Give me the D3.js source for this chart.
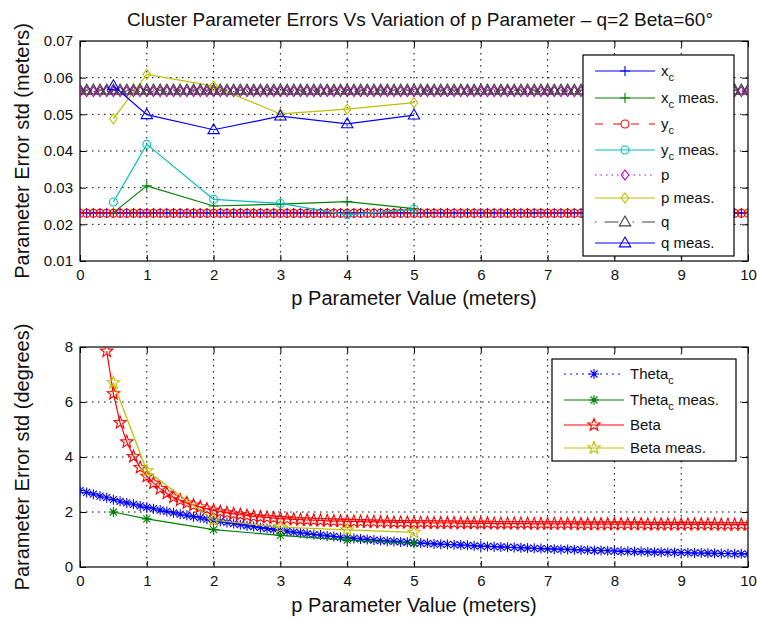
<!DOCTYPE html>
<html>
<head>
<meta charset="utf-8">
<script src="https://cdn.jsdelivr.net/npm/d3@7"></script>
<style>
body { margin: 0; background: #fff; }
text { font-family: "Liberation Sans", Arial, Helvetica, sans-serif; fill: #111; }
</style>
</head>
<body>
<div id="interface"></div>
<script>

// global variables
var svg_w = 757;
var svg_h = 623;
var plot_left = 80;
var plot_right = 748;

// p grid (meters), 0..10 step 0.1
var pGrid = [
	0.0, 0.1, 0.2, 0.3, 0.4, 0.5, 0.6, 0.7, 0.8, 0.9,
	1.0, 1.1, 1.2, 1.3, 1.4, 1.5, 1.6, 1.7, 1.8, 1.9,
	2.0, 2.1, 2.2, 2.3, 2.4, 2.5, 2.6, 2.7, 2.8, 2.9,
	3.0, 3.1, 3.2, 3.3, 3.4, 3.5, 3.6, 3.7, 3.8, 3.9,
	4.0, 4.1, 4.2, 4.3, 4.4, 4.5, 4.6, 4.7, 4.8, 4.9,
	5.0, 5.1, 5.2, 5.3, 5.4, 5.5, 5.6, 5.7, 5.8, 5.9,
	6.0, 6.1, 6.2, 6.3, 6.4, 6.5, 6.6, 6.7, 6.8, 6.9,
	7.0, 7.1, 7.2, 7.3, 7.4, 7.5, 7.6, 7.7, 7.8, 7.9,
	8.0, 8.1, 8.2, 8.3, 8.4, 8.5, 8.6, 8.7, 8.8, 8.9,
	9.0, 9.1, 9.2, 9.3, 9.4, 9.5, 9.6, 9.7, 9.8, 9.9,
	10.0];

// measured p values
var measP = [0.5, 1, 2, 3, 4, 5];

// top plot - std in meters
var xcErr = [
	0.0231, 0.0231, 0.0231, 0.0231, 0.0231, 0.0231, 0.0231, 0.0231, 0.0231, 0.0231,
	0.0231, 0.0231, 0.0231, 0.0231, 0.0231, 0.0231, 0.0231, 0.0231, 0.0231, 0.0231,
	0.0231, 0.0231, 0.0231, 0.0231, 0.0231, 0.0231, 0.0231, 0.0231, 0.0231, 0.0231,
	0.0231, 0.0231, 0.0231, 0.0231, 0.0231, 0.0231, 0.0231, 0.0231, 0.0231, 0.0231,
	0.0231, 0.0231, 0.0231, 0.0231, 0.0231, 0.0231, 0.0231, 0.0231, 0.0231, 0.0231,
	0.0231, 0.0231, 0.0231, 0.0231, 0.0231, 0.0231, 0.0231, 0.0231, 0.0231, 0.0231,
	0.0231, 0.0231, 0.0231, 0.0231, 0.0231, 0.0231, 0.0231, 0.0231, 0.0231, 0.0231,
	0.0231, 0.0231, 0.0231, 0.0231, 0.0231, 0.0231, 0.0231, 0.0231, 0.0231, 0.0231,
	0.0231, 0.0231, 0.0231, 0.0231, 0.0231, 0.0231, 0.0231, 0.0231, 0.0231, 0.0231,
	0.0231, 0.0231, 0.0231, 0.0231, 0.0231, 0.0231, 0.0231, 0.0231, 0.0231, 0.0231,
	0.0231];
var ycErr = [
	0.0230, 0.0230, 0.0230, 0.0230, 0.0230, 0.0230, 0.0230, 0.0230, 0.0230, 0.0230,
	0.0230, 0.0230, 0.0230, 0.0230, 0.0230, 0.0230, 0.0230, 0.0230, 0.0230, 0.0230,
	0.0230, 0.0230, 0.0230, 0.0230, 0.0230, 0.0230, 0.0230, 0.0230, 0.0230, 0.0230,
	0.0230, 0.0230, 0.0230, 0.0230, 0.0230, 0.0230, 0.0230, 0.0230, 0.0230, 0.0230,
	0.0230, 0.0230, 0.0230, 0.0230, 0.0230, 0.0230, 0.0230, 0.0230, 0.0230, 0.0230,
	0.0230, 0.0230, 0.0230, 0.0230, 0.0230, 0.0230, 0.0230, 0.0230, 0.0230, 0.0230,
	0.0230, 0.0230, 0.0230, 0.0230, 0.0230, 0.0230, 0.0230, 0.0230, 0.0230, 0.0230,
	0.0230, 0.0230, 0.0230, 0.0230, 0.0230, 0.0230, 0.0230, 0.0230, 0.0230, 0.0230,
	0.0230, 0.0230, 0.0230, 0.0230, 0.0230, 0.0230, 0.0230, 0.0230, 0.0230, 0.0230,
	0.0230, 0.0230, 0.0230, 0.0230, 0.0230, 0.0230, 0.0230, 0.0230, 0.0230, 0.0230,
	0.0230];
var pErr = [
	0.0562, 0.0562, 0.0562, 0.0562, 0.0562, 0.0562, 0.0562, 0.0562, 0.0562, 0.0562,
	0.0562, 0.0562, 0.0562, 0.0562, 0.0562, 0.0562, 0.0562, 0.0562, 0.0562, 0.0562,
	0.0562, 0.0562, 0.0562, 0.0562, 0.0562, 0.0562, 0.0562, 0.0562, 0.0562, 0.0562,
	0.0562, 0.0562, 0.0562, 0.0562, 0.0562, 0.0562, 0.0562, 0.0562, 0.0562, 0.0562,
	0.0562, 0.0562, 0.0562, 0.0562, 0.0562, 0.0562, 0.0562, 0.0562, 0.0562, 0.0562,
	0.0562, 0.0562, 0.0562, 0.0562, 0.0562, 0.0562, 0.0562, 0.0562, 0.0562, 0.0562,
	0.0562, 0.0562, 0.0562, 0.0562, 0.0562, 0.0562, 0.0562, 0.0562, 0.0562, 0.0562,
	0.0562, 0.0562, 0.0562, 0.0562, 0.0562, 0.0562, 0.0562, 0.0562, 0.0562, 0.0562,
	0.0562, 0.0562, 0.0562, 0.0562, 0.0562, 0.0562, 0.0562, 0.0562, 0.0562, 0.0562,
	0.0562, 0.0562, 0.0562, 0.0562, 0.0562, 0.0562, 0.0562, 0.0562, 0.0562, 0.0562,
	0.0562];
var qErr = [
	0.0566, 0.0566, 0.0566, 0.0566, 0.0566, 0.0566, 0.0566, 0.0566, 0.0566, 0.0566,
	0.0566, 0.0566, 0.0566, 0.0566, 0.0566, 0.0566, 0.0566, 0.0566, 0.0566, 0.0566,
	0.0566, 0.0566, 0.0566, 0.0566, 0.0566, 0.0566, 0.0566, 0.0566, 0.0566, 0.0566,
	0.0566, 0.0566, 0.0566, 0.0566, 0.0566, 0.0566, 0.0566, 0.0566, 0.0566, 0.0566,
	0.0566, 0.0566, 0.0566, 0.0566, 0.0566, 0.0566, 0.0566, 0.0566, 0.0566, 0.0566,
	0.0566, 0.0566, 0.0566, 0.0566, 0.0566, 0.0566, 0.0566, 0.0566, 0.0566, 0.0566,
	0.0566, 0.0566, 0.0566, 0.0566, 0.0566, 0.0566, 0.0566, 0.0566, 0.0566, 0.0566,
	0.0566, 0.0566, 0.0566, 0.0566, 0.0566, 0.0566, 0.0566, 0.0566, 0.0566, 0.0566,
	0.0566, 0.0566, 0.0566, 0.0566, 0.0566, 0.0566, 0.0566, 0.0566, 0.0566, 0.0566,
	0.0566, 0.0566, 0.0566, 0.0566, 0.0566, 0.0566, 0.0566, 0.0566, 0.0566, 0.0566,
	0.0566];
var xcMeas = [0.0232, 0.0305, 0.0250, 0.0255, 0.0262, 0.0243];
var ycMeas = [0.0261, 0.0418, 0.0268, 0.0257, 0.0226, 0.0241];
var pMeas = [0.0488, 0.0609, 0.0577, 0.0501, 0.0514, 0.0532];
var qMeas = [0.0578, 0.0499, 0.0458, 0.0495, 0.0474, 0.0498];

// bottom plot - std in degrees
var thetaErr = [
	2.78, 2.71, 2.65, 2.58, 2.52, 2.45, 2.39, 2.33, 2.28, 2.22,
	2.17, 2.12, 2.07, 2.02, 1.97, 1.92, 1.88, 1.83, 1.79, 1.74,
	1.70, 1.66, 1.62, 1.58, 1.54, 1.50, 1.47, 1.43, 1.40, 1.36,
	1.33, 1.30, 1.27, 1.24, 1.21, 1.18, 1.16, 1.13, 1.11, 1.08,
	1.06, 1.04, 1.02, 1.00, 0.98, 0.96, 0.94, 0.93, 0.91, 0.90,
	0.88, 0.87, 0.86, 0.84, 0.83, 0.82, 0.81, 0.80, 0.79, 0.77,
	0.76, 0.75, 0.74, 0.73, 0.72, 0.71, 0.70, 0.69, 0.68, 0.67,
	0.66, 0.65, 0.64, 0.64, 0.63, 0.62, 0.61, 0.60, 0.60, 0.59,
	0.58, 0.57, 0.57, 0.56, 0.56, 0.55, 0.54, 0.54, 0.53, 0.53,
	0.52, 0.52, 0.51, 0.51, 0.50, 0.50, 0.49, 0.49, 0.48, 0.48,
	0.47];
// Beta starts at p=0.4 (smaller p is off scale)
var betaStart = 4;
var betaErr = [
	7.85, 6.30, 5.25, 4.55, 4.02, 3.62,
	3.30, 3.05, 2.85, 2.68, 2.54, 2.43, 2.33, 2.25, 2.18, 2.11,
	2.06, 2.01, 1.97, 1.93, 1.90, 1.87, 1.84, 1.82, 1.80, 1.78,
	1.76, 1.75, 1.73, 1.72, 1.71, 1.70, 1.69, 1.68, 1.67, 1.67,
	1.66, 1.65, 1.65, 1.64, 1.64, 1.63, 1.63, 1.62, 1.62, 1.62,
	1.61, 1.61, 1.61, 1.60, 1.60, 1.60, 1.60, 1.59, 1.59, 1.59,
	1.59, 1.59, 1.58, 1.58, 1.58, 1.58, 1.58, 1.58, 1.57, 1.57,
	1.57, 1.57, 1.57, 1.57, 1.57, 1.56, 1.56, 1.56, 1.56, 1.56,
	1.56, 1.56, 1.56, 1.56, 1.56, 1.55, 1.55, 1.55, 1.55, 1.55,
	1.55, 1.55, 1.55, 1.55, 1.55, 1.55, 1.54, 1.54, 1.54, 1.54,
	1.54];
var thetaMeas = [2.00, 1.75, 1.36, 1.15, 0.98, 0.86];
var betaMeas = [6.70, 3.50, 1.70, 1.45, 1.35, 1.26];

// tick values
var xTicks = [0, 1, 2, 3, 4, 5, 6, 7, 8, 9, 10];
var yTicksTop = [0.01, 0.02, 0.03, 0.04, 0.05, 0.06, 0.07];
var yTicksBot = [0, 2, 4, 6, 8];

// matlab colours
var c_blue = "#0000ff", c_green = "#008000", c_red = "#ff0000",
	c_cyan = "#00bfbf", c_mag = "#bf00bf", c_yel = "#bfbf00", c_blk = "#404040";

var svg = d3.select("#interface")
	.append("svg")
	.attr("width", svg_w)
	.attr("height", svg_h);

var x_scale = d3.scaleLinear()
	.domain([0, 10])
	.range([plot_left, plot_right]);

// marker shapes, drawn as outlines like matlab
function markerPath(type, s) {
	if (type == "plus") {
		return "M" + (-s) + ",0H" + s + "M0," + (-s) + "V" + s;
	}
	if (type == "star") {
		var a = s * 0.7;
		return "M" + (-s) + ",0H" + s + "M0," + (-s) + "V" + s +
			"M" + (-a) + "," + (-a) + "L" + a + "," + a + "M" + (-a) + "," + a + "L" + a + "," + (-a);
	}
	if (type == "diamond") {
		return "M0," + (-s) + "L" + (s * 0.75) + ",0L0," + s + "L" + (-s * 0.75) + ",0Z";
	}
	if (type == "triangle") {
		return "M0," + (-s) + "L" + (s * 0.95) + "," + (s * 0.65) + "L" + (-s * 0.95) + "," + (s * 0.65) + "Z";
	}
	if (type == "circle") {
		return d3.symbol().type(d3.symbolCircle).size(Math.PI * s * s)();
	}
	if (type == "pentagram") {
		var pts = [];
		for (var k = 0; k < 10; k++) {
			var r = (k % 2 == 0) ? s : s * 0.42;
			var ang = -Math.PI / 2 + k * Math.PI / 5;
			pts.push([r * Math.cos(ang), r * Math.sin(ang)]);
		}
		return "M" + pts.join("L") + "Z";
	}
	return "";
}

var markerSize = { plus: 5, star: 5, diamond: 5, triangle: 6, circle: 4, pentagram: 6.5 };

// draws one axes box with grid and ticks
function makeAxes(top, bottom, domain, yTicks, yFmt, clipId) {
	var y_scale = d3.scaleLinear()
		.domain(domain)
		.range([bottom, top]);

	svg.append("clipPath")
		.attr("id", clipId)
		.append("rect")
		.attr("x", plot_left)
		.attr("y", top)
		.attr("width", plot_right - plot_left)
		.attr("height", bottom - top);

	var g = svg.append("g");

	// grid
	g.selectAll(".vgrid")
		.data(xTicks.slice(1, -1))
		.enter()
		.append("line")
		.attr("x1", function(d) { return x_scale(d); })
		.attr("x2", function(d) { return x_scale(d); })
		.attr("y1", top)
		.attr("y2", bottom)
		.attr("stroke", "#000")
		.attr("stroke-width", 1)
		.attr("stroke-dasharray", "1.5,4.5");
	g.selectAll(".hgrid")
		.data(yTicks.slice(1, -1))
		.enter()
		.append("line")
		.attr("x1", plot_left)
		.attr("x2", plot_right)
		.attr("y1", function(d) { return y_scale(d); })
		.attr("y2", function(d) { return y_scale(d); })
		.attr("stroke", "#000")
		.attr("stroke-width", 1)
		.attr("stroke-dasharray", "1.5,4.5");

	// axes with inward ticks
	g.append("g")
		.attr("transform", "translate(0," + bottom + ")")
		.call(d3.axisBottom(x_scale).tickValues(xTicks).tickSizeInner(-6).tickSizeOuter(0).tickPadding(8));
	g.append("g")
		.attr("transform", "translate(0," + top + ")")
		.call(d3.axisTop(x_scale).tickValues(xTicks).tickSizeInner(-6).tickSizeOuter(0).tickFormat(""));
	g.append("g")
		.attr("transform", "translate(" + plot_left + ",0)")
		.call(d3.axisLeft(y_scale).tickValues(yTicks).tickSizeInner(-6).tickSizeOuter(0).tickPadding(7).tickFormat(yFmt));
	g.append("g")
		.attr("transform", "translate(" + plot_right + ",0)")
		.call(d3.axisRight(y_scale).tickValues(yTicks).tickSizeInner(-6).tickSizeOuter(0).tickFormat(""));

	g.selectAll(".domain").remove();
	g.selectAll(".tick line").attr("stroke", "#000");
	g.selectAll(".tick text")
		.style("font-family", "'Liberation Sans', Arial, sans-serif")
		.style("font-size", "15px")
		.attr("fill", "#111");

	// frame
	g.append("rect")
		.attr("x", plot_left)
		.attr("y", top)
		.attr("width", plot_right - plot_left)
		.attr("height", bottom - top)
		.attr("fill", "none")
		.attr("stroke", "#000")
		.attr("stroke-width", 1.2);

	return y_scale;
}

// plots one series: line + markers
function drawSeries(y_scale, clipId, xs, ys, color, dash, marker) {
	var pts = xs.map(function(d, i) { return [d, ys[i]]; });
	var g = svg.append("g").attr("clip-path", "url(#" + clipId + ")");
	var line = d3.line()
		.x(function(d) { return x_scale(d[0]); })
		.y(function(d) { return y_scale(d[1]); });
	g.append("path")
		.datum(pts)
		.attr("d", line)
		.attr("fill", "none")
		.attr("stroke", color)
		.attr("stroke-width", 1.2)
		.attr("stroke-dasharray", dash);
	g.selectAll(".mk")
		.data(pts)
		.enter()
		.append("path")
		.attr("transform", function(d) { return "translate(" + x_scale(d[0]) + "," + y_scale(d[1]) + ")"; })
		.attr("d", markerPath(marker, markerSize[marker]))
		.attr("fill", "none")
		.attr("stroke", color)
		.attr("stroke-width", 1.1);
}

// legend box
function drawLegend(x0, y0, w, h, rowY, items) {
	var g = svg.append("g");
	g.append("rect")
		.attr("x", x0)
		.attr("y", y0)
		.attr("width", w)
		.attr("height", h)
		.attr("fill", "#fff")
		.attr("stroke", "#000")
		.attr("stroke-width", 1.2);
	items.forEach(function(it, i) {
		var yy = rowY[i];
		g.append("line")
			.attr("x1", x0 + 12)
			.attr("x2", x0 + 72)
			.attr("y1", yy)
			.attr("y2", yy)
			.attr("stroke", it.color)
			.attr("stroke-width", 1.2)
			.attr("stroke-dasharray", it.dash);
		g.append("path")
			.attr("transform", "translate(" + (x0 + 42) + "," + yy + ")")
			.attr("d", markerPath(it.marker, markerSize[it.marker]))
			.attr("fill", "none")
			.attr("stroke", it.color)
			.attr("stroke-width", 1.1);
		var t = g.append("text")
			.attr("x", x0 + 78)
			.attr("y", yy + 5)
			.style("font-size", "15px");
		t.append("tspan").text(it.name);
		if (it.sub) {
			t.append("tspan").attr("dy", 5).style("font-size", "11px").text(it.sub);
			if (it.rest) {
				t.append("tspan").attr("dy", -5).text(it.rest);
			}
		}
	});
}

// ---- top plot ----
var y_top = makeAxes(41, 261, [0.01, 0.07], yTicksTop, d3.format(".2f"), "clipTop");

drawSeries(y_top, "clipTop", pGrid, xcErr, c_blue, null, "plus");
drawSeries(y_top, "clipTop", measP, xcMeas, c_green, null, "plus");
drawSeries(y_top, "clipTop", pGrid, ycErr, c_red, "8,5", "circle");
drawSeries(y_top, "clipTop", measP, ycMeas, c_cyan, null, "circle");
drawSeries(y_top, "clipTop", pGrid, pErr, c_mag, "1.5,3", "diamond");
drawSeries(y_top, "clipTop", measP, pMeas, c_yel, null, "diamond");
drawSeries(y_top, "clipTop", pGrid, qErr, c_blk, "8,3,1.5,3", "triangle");
drawSeries(y_top, "clipTop", measP, qMeas, c_blue, null, "triangle");

drawLegend(583, 55, 151, 201, [71, 98, 124, 150, 175, 198, 222, 243], [
	{ name: "x", sub: "c", color: c_blue, dash: null, marker: "plus" },
	{ name: "x", sub: "c", rest: " meas.", color: c_green, dash: null, marker: "plus" },
	{ name: "y", sub: "c", color: c_red, dash: "8,10", marker: "circle" },
	{ name: "y", sub: "c", rest: " meas.", color: c_cyan, dash: null, marker: "circle" },
	{ name: "p", color: c_mag, dash: "1.5,4", marker: "diamond" },
	{ name: "p meas.", color: c_yel, dash: null, marker: "diamond" },
	{ name: "q", color: c_blk, dash: "1.5,8,14,14", marker: "triangle" },
	{ name: "q meas.", color: c_blue, dash: null, marker: "triangle" }
]);

// ---- bottom plot ----
var y_bot = makeAxes(347, 567, [0, 8], yTicksBot, d3.format("d"), "clipBot");

drawSeries(y_bot, "clipBot", pGrid, thetaErr, c_blue, "1.5,3", "star");
drawSeries(y_bot, "clipBot", measP, thetaMeas, c_green, null, "star");
drawSeries(y_bot, "clipBot", pGrid.slice(betaStart), betaErr, c_red, null, "pentagram");
drawSeries(y_bot, "clipBot", measP, betaMeas, c_yel, null, "pentagram");

drawLegend(552, 359, 184, 102, [374, 400, 425, 448], [
	{ name: "Theta", sub: "c", color: c_blue, dash: "2,4", marker: "star" },
	{ name: "Theta", sub: "c", rest: " meas.", color: c_green, dash: null, marker: "star" },
	{ name: "Beta", color: c_red, dash: null, marker: "pentagram" },
	{ name: "Beta meas.", color: c_yel, dash: null, marker: "pentagram" }
]);

// ---- titles and labels ----
svg.append("text")
	.attr("x", 420)
	.attr("y", 26)
	.attr("text-anchor", "middle")
	.style("font-size", "19px")
	.text("Cluster Parameter Errors Vs Variation of p Parameter \u2013 q=2 Beta=60\u00b0");

svg.append("text")
	.attr("x", 414)
	.attr("y", 305)
	.attr("text-anchor", "middle")
	.style("font-size", "20px")
	.text("p Parameter Value (meters)");
svg.append("text")
	.attr("x", 414)
	.attr("y", 612)
	.attr("text-anchor", "middle")
	.style("font-size", "20px")
	.text("p Parameter Value (meters)");

svg.append("text")
	.attr("transform", "translate(29,151) rotate(-90)")
	.attr("text-anchor", "middle")
	.style("font-size", "20px")
	.text("Parameter Error std (meters)");
svg.append("text")
	.attr("transform", "translate(29,457) rotate(-90)")
	.attr("text-anchor", "middle")
	.style("font-size", "20px")
	.text("Parameter Error std (degrees)");

</script>
</body>
</html>
